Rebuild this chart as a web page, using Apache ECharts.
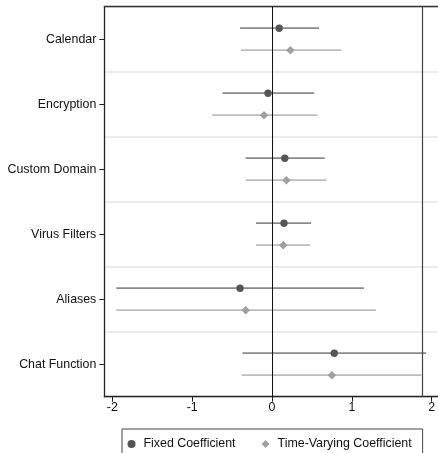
<!DOCTYPE html>
<html>
<head>
<meta charset="utf-8">
<script src="https://cdn.jsdelivr.net/npm/echarts@6/dist/echarts.min.js"></script>
<style>
  html, body { margin: 0; padding: 0; background: #fff; }
  #chart { width: 438px; height: 453px; }
</style>
</head>
<body>
<div id="chart"></div>
<script>
// Feature categories, top to bottom
const categories = ['Calendar', 'Encryption', 'Custom Domain', 'Virus Filters', 'Aliases', 'Chat Function'];

// Fixed coefficient: point estimate and confidence interval bounds
const fixedEst = [0.09, -0.05, 0.16, 0.15, -0.40, 0.78];
const fixedLo  = [-0.40, -0.62, -0.33, -0.20, -1.95, -0.37];
const fixedHi  = [0.59, 0.53, 0.66, 0.49, 1.15, 1.93];

// Time-varying coefficient: point estimate and confidence interval bounds
const tvEst = [0.23, -0.10, 0.18, 0.14, -0.33, 0.75];
const tvLo  = [-0.39, -0.75, -0.33, -0.20, -1.95, -0.38];
const tvHi  = [0.87, 0.57, 0.68, 0.48, 1.30, 1.87];

// Axis ticks and reference lines
const xTicks = [-2, -1, 0, 1, 2];
const zeroLine = 0;
const rightLine = 1.875;

const FONT = "'Liberation Sans', Arial, Helvetica, sans-serif";
const FS = 12.4;

function rows(est, lo, hi) {
  return categories.map((c, i) => [est[i], i, lo[i], hi[i]]);
}

function makeRender(offset, lineColor, markColor, shape) {
  return function (params, api) {
    const cat = api.value(1);
    const c = api.coord([api.value(0), cat]);
    const lo = api.coord([api.value(2), cat]);
    const hi = api.coord([api.value(3), cat]);
    const y = c[1] + offset;
    const mark = shape === 'circle'
      ? { type: 'circle', shape: { cx: c[0], cy: y, r: 3.7 }, style: { fill: markColor } }
      : { type: 'polygon', shape: { points: [[c[0], y - 4.3], [c[0] + 4.3, y], [c[0], y + 4.3], [c[0] - 4.3, y]] }, style: { fill: markColor } };
    return {
      type: 'group',
      children: [
        { type: 'line', shape: { x1: lo[0], y1: y, x2: hi[0], y2: y }, style: { stroke: lineColor, lineWidth: 1.7 } },
        mark
      ]
    };
  };
}

const chart = echarts.init(document.getElementById('chart'), null, { renderer: 'canvas' });

const xMin = -2.1, xMax = 2.2;

chart.setOption({
  animation: false,
  backgroundColor: '#fff',
  textStyle: { fontFamily: FONT },
  grid: { left: 104.3, top: 6.7, width: 343.4, height: 390, containLabel: false, outerBoundsMode: 'none' },
  legend: {
    left: 122, top: 429,
    padding: [9, 11, 12, 5.5],
    borderColor: '#444', borderWidth: 1,
    itemWidth: 8, itemHeight: 8, itemGap: 26,
    textStyle: { fontFamily: FONT, fontSize: FS, color: '#111', padding: [0, 0, 0, 3] },
    data: [
      { name: 'Fixed Coefficient', icon: 'circle' },
      { name: 'Time-Varying Coefficient', icon: 'diamond' }
    ]
  },
  xAxis: [
    {
      type: 'value', min: xMin, max: xMax, interval: 1,
      position: 'bottom',
      axisLine: { show: true, onZero: false, lineStyle: { color: '#222', width: 1.3 } },
      axisTick: { show: true, length: 5, lineStyle: { color: '#222', width: 1 },
        customValues: xTicks },
      axisLabel: { show: true, margin: 5, fontFamily: FONT, fontSize: FS, color: '#111',
        customValues: xTicks },
      splitLine: { show: false }
    },
    {
      type: 'value', min: xMin, max: xMax, position: 'top',
      axisLine: { show: true, onZero: false, lineStyle: { color: '#333', width: 1.3 } },
      axisTick: { show: false }, axisLabel: { show: false }, splitLine: { show: false }
    }
  ],
  yAxis: {
    type: 'category', data: categories, inverse: true,
    axisLine: { show: true, onZero: false, lineStyle: { color: '#222', width: 1.3 } },
    axisTick: { show: true, alignWithLabel: true, length: 5, lineStyle: { color: '#222', width: 1 } },
    axisLabel: { margin: 8, fontFamily: FONT, fontSize: FS, color: '#111' },
    splitLine: { show: true, lineStyle: { color: '#e6e6e6', width: 1.5 } }
  },
  series: [
    {
      name: 'Fixed Coefficient', type: 'custom',
      itemStyle: { color: '#555' },
      renderItem: makeRender(-11, '#8a8a8a', '#555', 'circle'),
      data: rows(fixedEst, fixedLo, fixedHi),
      z: 3,
      markLine: {
        silent: true, symbol: 'none', label: { show: false },
        lineStyle: { type: 'solid', color: '#111', width: 1 },
        data: [{ xAxis: zeroLine }, { xAxis: rightLine, lineStyle: { color: '#444', width: 1.2 } }]
      }
    },
    {
      name: 'Time-Varying Coefficient', type: 'custom',
      itemStyle: { color: '#a0a0a0' },
      renderItem: makeRender(11, '#bdbdbd', '#a0a0a0', 'diamond'),
      data: rows(tvEst, tvLo, tvHi),
      z: 3
    }
  ]
});
</script>
</body>
</html>
